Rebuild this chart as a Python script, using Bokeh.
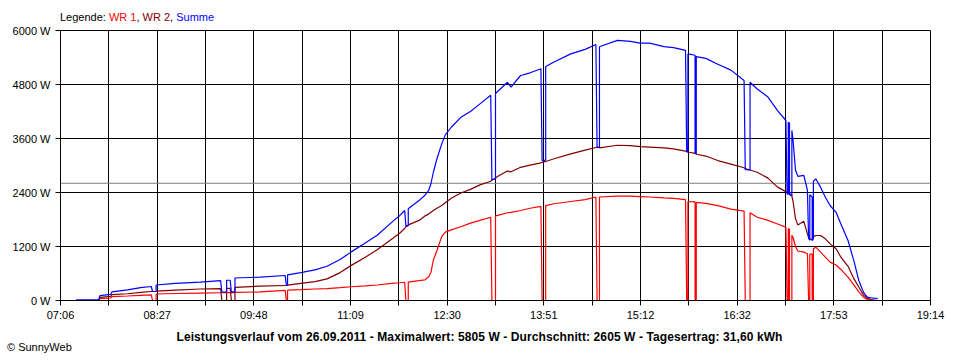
from bokeh.plotting import figure
from bokeh.models import Range1d, FixedTicker, Span, Div
from bokeh.layouts import column
from bokeh.embed import file_html
from bokeh.resources import INLINE

# ---------------- data ----------------
datum = "26.09.2011"
maximalwert = 5805
durchschnitt = 2605
tagesertrag = "31,60"

serien_namen = ["WR 1", "WR 2", "Summe"]
serien_farben = ["#ff0000", "#800000", "#0000ff"]

x_tick_labels = ["07:06", "08:27", "09:48", "11:09", "12:30",
                 "13:51", "15:12", "16:32", "17:53", "19:14"]
y_ticks = [0, 1200, 2400, 3600, 4800, 6000]

zeiten = [
    "07:19", "07:38", "07:39", "07:48", "07:49", "08:02", "08:13", "08:22", "08:23", "08:26",
    "08:26", "08:42", "09:03", "09:20", "09:21", "09:25", "09:25", "09:28", "09:29", "09:32",
    "09:32", "09:53", "10:14", "10:15", "10:16", "10:16", "10:27", "10:39", "10:49", "11:00",
    "11:09", "11:21", "11:31", "11:45", "11:50", "11:54", "11:55", "11:57", "11:57", "12:06",
    "12:11", "12:14", "12:16", "12:18", "12:21", "12:25", "12:28", "12:33", "12:41", "12:49",
    "12:57", "13:06", "13:07", "13:10", "13:10", "13:12", "13:20", "13:23", "13:31", "13:39",
    "13:48", "13:49", "13:52", "13:52", "13:59", "14:13", "14:25", "14:34", "14:35", "14:37",
    "14:37", "14:52", "15:03", "15:11", "15:19", "15:31", "15:39", "15:49", "15:50", "15:51",
    "15:51", "15:57", "15:57", "15:58", "15:58", "16:06", "16:16", "16:27", "16:38", "16:39",
    "16:43", "16:43", "16:49", "16:58", "17:06", "17:13", "17:14", "17:15", "17:15", "17:16",
    "17:16", "17:18", "17:18", "17:19", "17:21", "17:23", "17:28", "17:31", "17:32", "17:33",
    "17:33", "17:35", "17:35", "17:36", "17:36", "17:38", "17:42", "17:46", "17:50", "17:55",
    "17:59", "18:05", "18:10", "18:14", "18:18", "18:21", "18:24", "18:30",
]
wr1_w = [
    0, 0, 40, 55, 85, 100, 115, 125, 0, 0,
    145, 155, 165, 172, 172, 172, 175, 175, 175, 175,
    180, 190, 225, 0, 0, 230, 240, 255, 265, 285,
    305, 325, 345, 385, 395, 405, 0, 0, 410, 440,
    460, 520, 630, 900, 1110, 1420, 1520, 1570, 1640, 1720,
    1780, 1850, 0, 0, 1880, 1890, 1950, 1960, 2000, 2050,
    2090, 0, 0, 2110, 2150, 2200, 2240, 2300, 0, 0,
    2300, 2320, 2320, 2310, 2300, 2280, 2270, 2240, 0, 0,
    2200, 2190, 0, 0, 2180, 2160, 2110, 2030, 1985, 0,
    0, 1950, 1850, 1780, 1700, 1630, 0, 0, 1600, 1580,
    0, 0, 1450, 1400, 1200, 1100, 1074, 1040, 0, 0,
    1030, 1030, 0, 0, 1150, 1185, 1074, 963, 852, 790,
    690, 520, 340, 190, 70, 20, 0, 0,
]
wr2_w = [
    0, 0, 70, 90, 130, 150, 180, 200, 200, 205,
    210, 230, 255, 265, 0, 0, 270, 270, 0, 0,
    290, 320, 333, 333, 335, 340, 380, 420, 480, 620,
    775, 960, 1130, 1400, 1500, 1600, 1640, 1660, 1680, 1780,
    1880, 1920, 1960, 2000, 2050, 2110, 2170, 2270, 2390, 2470,
    2570, 2650, 2680, 2710, 2720, 2760, 2880, 2860, 2960, 3010,
    3060, 3070, 3090, 3090, 3150, 3260, 3340, 3400, 3400, 3400,
    3390, 3450, 3440, 3420, 3410, 3390, 3370, 3320, 3310, 3300,
    3300, 3270, 3270, 3260, 3250, 3210, 3110, 3030, 2950, 2930,
    2900, 2900, 2850, 2720, 2520, 2420, 2400, 2390, 2390, 2380,
    2380, 2330, 2320, 2200, 1820, 1680, 1760, 1480, 1400, 1370,
    1370, 1350, 1340, 1380, 1420, 1444, 1444, 1370, 1259, 1150,
    963, 760, 480, 300, 120, 50, 20, 0,
]
summe_w = [
    15, 20, 110, 135, 190, 235, 285, 311, 200, 205,
    345, 380, 410, 440, 185, 185, 450, 450, 190, 190,
    500, 520, 556, 333, 335, 570, 620, 680, 760, 910,
    1075, 1280, 1450, 1780, 1890, 2000, 1660, 1670, 2040, 2220,
    2340, 2440, 2600, 2850, 3150, 3480, 3680, 3850, 4070, 4200,
    4370, 4560, 2680, 2710, 4600, 4650, 4850, 4740, 5000, 5060,
    5150, 3110, 3120, 5200, 5300, 5480, 5580, 5690, 3410, 3410,
    5640, 5780, 5760, 5720, 5720, 5640, 5620, 5560, 3300, 3300,
    5480, 5450, 3270, 3260, 5420, 5380, 5250, 5120, 4890, 2910,
    2900, 4850, 4700, 4520, 4220, 4000, 2370, 2360, 3960, 3940,
    2350, 2330, 3780, 3560, 2900, 2760, 2780, 2450, 1380, 1340,
    2350, 2300, 1330, 1380, 2650, 2704, 2519, 2296, 2111, 1960,
    1700, 1333, 870, 444, 180, 75, 60, 45,
]

# ---------------- helpers ----------------
def to_min(s):
    h, m = s.split(":")
    return int(h) * 60 + int(m)

t = [to_min(s) for s in zeiten]
x_start = to_min(x_tick_labels[0])
x_end = to_min(x_tick_labels[-1])
n = len(x_tick_labels) - 1
step = (x_end - x_start) / n
major = [round(x_start + i * step, 3) for i in range(n + 1)]
minor = [round(x_start + (i + 0.5) * step, 3) for i in range(n)]

FONT = "Liberation Sans"
W = 952

p = figure(width=W, height=302, output_backend="svg", toolbar_location=None,
           x_range=Range1d(x_start, x_end), y_range=Range1d(0, 6000),
           min_border_left=60, min_border_right=22, min_border_top=8, min_border_bottom=24,
           margin=0)
p.background_fill_color = "white"
p.border_fill_color = "white"
p.outline_line_color = "black"
p.outline_line_width = 1
p.outline_line_alpha = 1

# axes
p.xaxis.ticker = FixedTicker(ticks=major, minor_ticks=minor)
p.xaxis.major_label_overrides = {v: lab for v, lab in zip(major, x_tick_labels)}
p.yaxis.ticker = FixedTicker(ticks=y_ticks)
p.yaxis.major_label_overrides = {v: f"{v} W" for v in y_ticks}
for ax in (p.xaxis, p.yaxis):
    ax.axis_line_color = "black"
    ax.major_tick_line_color = "black"
    ax.major_tick_in = 0
    ax.major_tick_out = 5
    ax.major_label_text_font = FONT
    ax.major_label_text_font_size = "11px"
    ax.major_label_text_color = "black"
p.xaxis.minor_tick_line_color = "black"
p.xaxis.minor_tick_in = 0
p.xaxis.minor_tick_out = 5
p.xaxis.major_label_standoff = 3
p.yaxis.minor_tick_line_color = None
p.yaxis.major_label_standoff = 5

# grid
p.xgrid.grid_line_color = "black"
p.xgrid.grid_line_alpha = 1
p.xgrid.minor_grid_line_color = "black"
p.xgrid.minor_grid_line_alpha = 1
p.ygrid.grid_line_color = "black"
p.ygrid.grid_line_alpha = 1

# average line
p.add_layout(Span(location=durchschnitt, dimension="width", line_color="#808080",
                  line_width=1, level="underlay"))

# series
for werte, farbe in zip([wr1_w, wr2_w, summe_w], serien_farben):
    p.line(t, werte, line_color=farbe, line_width=1.2)

# legend line at the top
teile = ", ".join(f'<span style="color:{f}">{nme}</span>' for nme, f in zip(serien_namen, serien_farben))
legend_html = (
    f'<div style="position:relative;width:{W}px;height:22px;font-family:\'{FONT}\';">'
    f'<div style="position:absolute;left:60px;top:11px;font-size:11px;line-height:13px;'
    f'color:black;white-space:nowrap">Legende: {teile}</div></div>'
)
top_div = Div(text=legend_html, width=W, height=22, margin=0)

titel = (f"Leistungsverlauf vom {datum} - Maximalwert: {maximalwert} W - "
         f"Durchschnitt: {durchschnitt} W - Tagesertrag: {tagesertrag} kWh")
bottom_html = (
    f'<div style="position:relative;width:{W}px;height:34px;font-family:\'{FONT}\';color:black">'
    f'<div style="position:absolute;left:7px;width:{W - 7}px;top:7px;text-align:center;'
    f'font-size:12px;font-weight:bold;line-height:12px;letter-spacing:0.1px;white-space:nowrap">{titel}</div>'
    f'<div style="position:absolute;left:7px;top:17px;font-size:11px;line-height:13px;'
    f'white-space:nowrap">© SunnyWeb</div></div>'
)
bottom_div = Div(text=bottom_html, width=W, height=34, margin=0)

layout = column(top_div, p, bottom_div, spacing=0)
open("out.html", "w").write(file_html(layout, INLINE))
